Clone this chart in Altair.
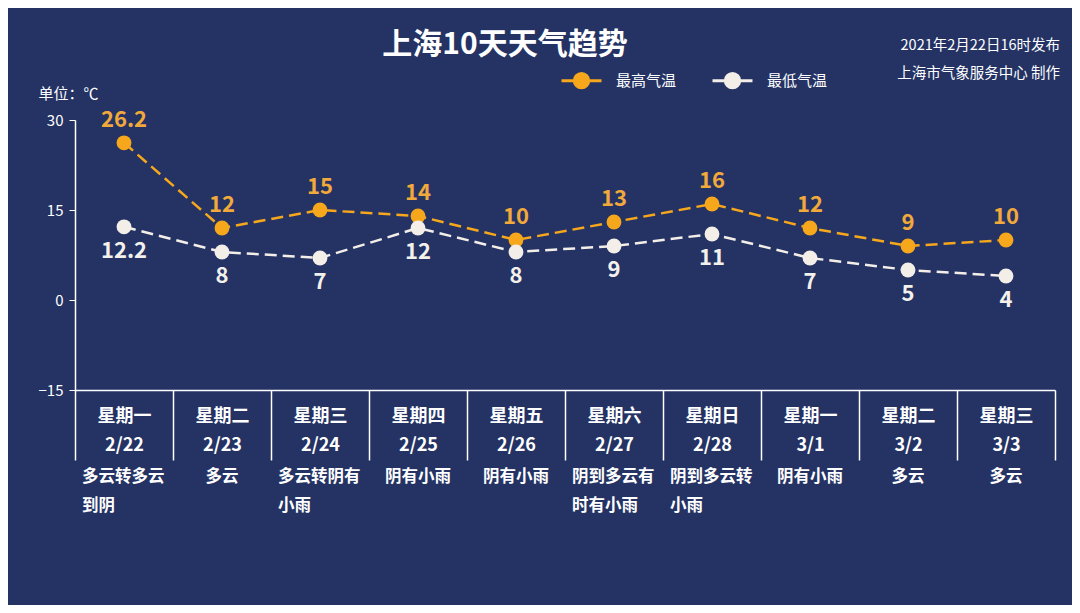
import altair as alt
import pandas as pd

days = ["星期一", "星期二", "星期三", "星期四", "星期五", "星期六", "星期日", "星期一", "星期二", "星期三"]
dates = ["2/22", "2/23", "2/24", "2/25", "2/26", "2/27", "2/28", "3/1", "3/2", "3/3"]
weather = ["多云转多云|到阴", "多云", "多云转阴有|小雨", "阴有小雨", "阴有小雨",
           "阴到多云有|时有小雨", "阴到多云转|小雨", "阴有小雨", "多云", "多云"]
t_max = [26.2, 12, 15, 14, 10, 13, 16, 12, 9, 10]
t_min = [12.2, 8, 7, 12, 8, 9, 11, 7, 5, 4]
series = ["最高气温", "最低气温"]
colors = ["#F6A71C", "#F3EEE8"]
y_ticks = [30, 15, 0, -15]

FONT = "Noto Sans CJK SC"
BG = "#243364"

labels = [f"{d}|{t}" for d, t in zip(days, dates)]
rows = []
for lab, hi, lo in zip(labels, t_max, t_min):
    rows.append({"label": lab, "series": series[0], "val": hi})
    rows.append({"label": lab, "series": series[1], "val": lo})
df = pd.DataFrame(rows)
desc_df = pd.DataFrame({"label": labels, "desc": weather})

W, H = 980, 270

x_enc = alt.X(
    "label:N",
    sort=labels,
    scale=alt.Scale(paddingInner=0, paddingOuter=0),
    axis=alt.Axis(
        title=None,
        labelExpr="split(datum.label, '|')",
        labelAngle=0,
        labelFontSize=18,
        labelFontWeight="bold",
        labelColor="white",
        labelFont=FONT,
        labelLineHeight=29,
        labelPadding=-53,
        tickBand="extent",
        tickSize=70,
        tickColor="white",
        tickWidth=1.5,
        domainColor="white",
        domainWidth=1.5,
    ),
)
y_enc = alt.Y(
    "val:Q",
    scale=alt.Scale(domain=[-15, 30], nice=False, zero=False),
    axis=alt.Axis(
        values=y_ticks,
        title="单位：℃",
        titleAngle=0,
        titleX=-37,
        titleY=-27,
        titleAlign="left",
        titleBaseline="middle",
        titleFontSize=15,
        titleFontWeight="normal",
        titleColor="white",
        titleFont=FONT,
        labelFontSize=15,
        labelColor="white",
        labelFont=FONT,
        labelPadding=6,
        tickSize=6,
        tickColor="white",
        domainColor="white",
        domainWidth=1.5,
        grid=False,
    ),
)

legend_path = ("M-1,0L-0.38,0M0.38,0L1,0"
               "M-0.36,0A0.36,0.36 0 1,1 0.36,0A0.36,0.36 0 1,1 -0.36,0Z")
color_enc = alt.Color(
    "series:N",
    scale=alt.Scale(domain=series, range=colors),
    legend=alt.Legend(
        title=None,
        orient="none",
        direction="horizontal",
        legendX=485,
        legendY=-61,
        symbolType=legend_path,
        symbolSize=1600,
        symbolStrokeWidth=3,
        symbolOpacity=1,
        labelFontSize=15,
        labelColor="white",
        labelFont=FONT,
        labelOffset=13,
        columnPadding=29,
    ),
)

base = alt.Chart(df)

lines = base.mark_line(strokeDash=[12, 6], strokeWidth=2.5).encode(
    x=x_enc, y=y_enc, color=color_enc, detail="series:N"
)
points = base.mark_point(filled=True, size=220, opacity=1).encode(
    x=x_enc, y=y_enc, color=color_enc
)
hi_text = base.transform_filter(alt.datum.series == series[0]).mark_text(
    dy=-23, fontSize=22, fontWeight="bold", color="#F2A93B", font=FONT, baseline="middle"
).encode(x=alt.X("label:N", sort=labels), y=alt.Y("val:Q"), text=alt.Text("val:Q"))
lo_text = base.transform_filter(alt.datum.series == series[1]).mark_text(
    dy=24, fontSize=22, fontWeight="bold", color="#F4F1EC", font=FONT, baseline="middle"
).encode(x=alt.X("label:N", sort=labels), y=alt.Y("val:Q"), text=alt.Text("val:Q"))

desc_multi = alt.Chart(desc_df).transform_filter(
    "indexof(datum.desc, '|') >= 0"
).mark_text(
    align="left", dx=-42, baseline="top", lineBreak="|", lineHeight=29,
    fontSize=16.5, fontWeight="bold", color="white", font=FONT
).encode(x=alt.X("label:N", sort=labels), y=alt.value(H + 79), text="desc:N")
desc_single = alt.Chart(desc_df).transform_filter(
    "indexof(datum.desc, '|') < 0"
).mark_text(
    align="center", baseline="top",
    fontSize=16.5, fontWeight="bold", color="white", font=FONT
).encode(x=alt.X("label:N", sort=labels), y=alt.value(H + 79), text="desc:N")

info = alt.Chart(pd.DataFrame({"t": ["2021年2月22日16时发布|上海市气象服务中心 制作"]})).mark_text(
    align="right", baseline="middle", lineBreak="|", lineHeight=28,
    fontSize=14.5, color="white", font=FONT
).encode(x=alt.value(W + 5), y=alt.value(-74), text="t:N")

chart = alt.layer(lines, points, hi_text, lo_text, desc_multi, desc_single, info).properties(
    width=W,
    height=H,
    title=alt.TitleParams(
        "上海10天天气趋势",
        font=FONT,
        fontSize=30,
        fontWeight="bold",
        color="white",
        anchor="middle",
        frame="group",
        dx=-60,
        offset=-22,
    ),
    autosize=alt.AutoSizeParams(type="none"),
    padding={"left": 67, "top": 112, "right": 17, "bottom": 215},
    background=BG,
).configure_view(stroke=None)

chart.save("out.html", embed_options={"renderer": "svg", "actions": False})
